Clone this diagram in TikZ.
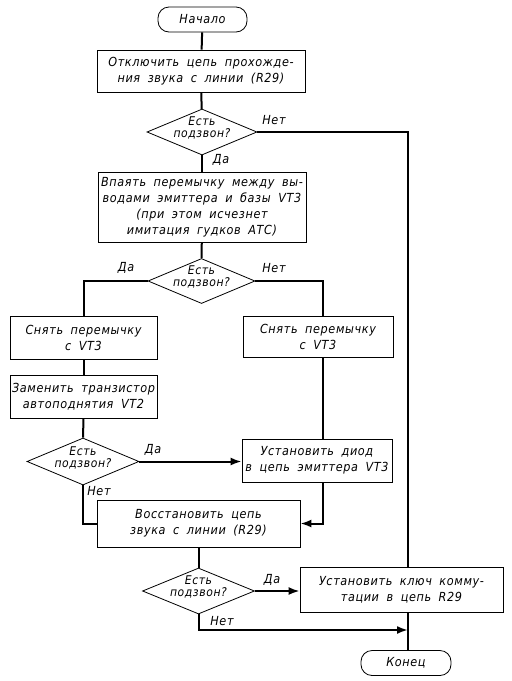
\documentclass[tikz,border=0pt]{standalone}
\usepackage{fontspec}
\setmainfont{DejaVu Sans Condensed}[LetterSpace=5, WordSpace=1.8]
\usetikzlibrary{shapes.geometric,arrows.meta}
\newcommand{\dtxt}[2]{\smash{\makebox[0pt]{\begin{tabular}{@{}c@{}}#1\\#2\end{tabular}}}}
\tikzset{
  txt/.style={font=\fontsize{12.5}{16}\selectfont\itshape},
  box/.style={draw, line width=0.8pt, rectangle, inner sep=0pt, align=center, txt},
  term/.style={draw, line width=0.8pt, rectangle, rounded corners=11pt, inner sep=0pt, txt},
  dec/.style={draw, line width=0.8pt, diamond, inner sep=0pt, minimum width=110pt, minimum height=46pt, font=\fontsize{12}{10.5}\selectfont\itshape},
  con/.style={line width=2pt},
  arr/.style={line width=2pt, -{Latex[length=11pt,width=8pt]}},
  lbl/.style={txt, inner sep=0pt}
}
\begin{document}
\begin{tikzpicture}[x=1pt,y=-1pt]
\useasboundingbox[fill=white] (0,0) rectangle (512,681);
\node[term, minimum width=89pt, minimum height=25pt] (start) at (202.5,19.5) {Начало};
\node[box, minimum width=208pt, minimum height=42pt] (b1) at (201,71) {Отключить цепь прохожде-\\ния звука с линии (R29)};
\node[dec] (d1) at (202,132) {\dtxt{Есть}{подзвон?}};
\node[box, minimum width=208pt, minimum height=70pt] (b2) at (202,207) {Впаять перемычку между вы-\\водами эмиттера и базы VT3\\(при этом исчезнет\\имитация гудков АТС)};
\node[dec, minimum width=107pt, minimum height=45pt] (d2) at (201.5,281) {\dtxt{Есть}{подзвон?}};
\node[box, minimum width=147pt, minimum height=43pt] (b3) at (83.5,337.5) {Снять перемычку\\с VT3};
\node[box, minimum width=150pt, minimum height=41pt] (b4) at (318,336.5) {Снять перемычку\\с VT3};
\node[box, minimum width=147pt, minimum height=43pt] (b5) at (83.5,396.5) {Заменить транзистор\\автоподнятия VT2};
\node[dec, minimum width=112pt, minimum height=47pt] (d3) at (83,461.5) {\dtxt{Есть}{подзвон?}};
\node[box, minimum width=150pt, minimum height=43pt] (b6) at (317,460.5) {Установить диод\\в цепь эмиттера VT3};
\node[box, minimum width=203pt, minimum height=47pt] (b7) at (198.5,523.5) {Восстановить цепь\\звука с линии (R29)};
\node[dec, minimum width=112pt, minimum height=46pt] (d4) at (198.5,591) {\dtxt{Есть}{подзвон?}};
\node[box, minimum width=203pt, minimum height=45pt] (b8) at (401.5,589.5) {Установить ключ комму-\\тации в цепь R29};
\node[term, minimum width=90pt, minimum height=25pt] (end) at (406,663) {Конец};
\coordinate (rx) at (408,132);
\coordinate (c4) at (323,0);
\coordinate (j) at (408,630);
% connectors
\draw[con] (start) -- (b1);
\draw[con] (b1) -- (d1);
\draw[con] (d1.east) -- (rx) -- (b8.north -| rx);
\draw[con] (d1) -- (b2);
\draw[con] (b2) -- (d2);
\draw[con] (d2.west) -| (b3.north);
\draw[con] (d2.east) -| (b4.north -| c4);
\draw[con] (b3) -- (b5);
\draw[con] (b5.south) -- (d3.north);
\draw[arr] (d3.east) -- (d3.east -| b6.west);
\draw[con] (b4.south -| c4) -- (b6.north -| c4);
\draw[con] (d3.south) |- (b7.west);
\draw[arr] (b6.south -| c4) |- (b7.east);
\draw[con] (b7) -- (d4);
\draw[arr] (d4.east) -- (d4.east -| b8.west);
\draw[con] (b8.south -| rx) -- (end.north -| rx);
\draw[arr] (d4.south) |- (j);
% labels
\node[lbl] (l1) at (274,120) {Нет};
\node[lbl] (l2) at (221,160) {Да};
\node[lbl] (l3) at (126,268) {Да};
\node[lbl] (l4) at (274,268) {Нет};
\node[lbl] (l5) at (153,450) {Да};
\node[lbl] (l6) at (99,491) {Нет};
\node[lbl] (l7) at (272,580) {Да};
\node[lbl] (l8) at (222,621) {Нет};
\end{tikzpicture}
\end{document}
